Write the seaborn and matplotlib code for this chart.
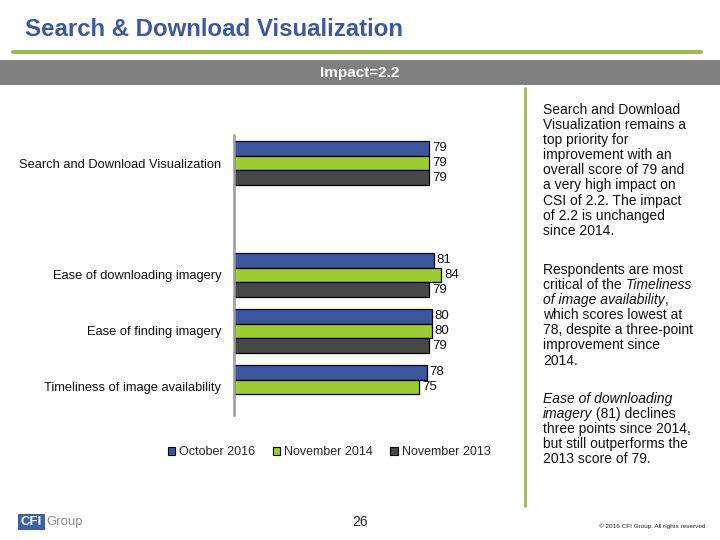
import numpy as np
import pandas as pd
import seaborn as sns
import matplotlib
matplotlib.use("Agg")
import matplotlib.pyplot as plt
from matplotlib.patches import Rectangle
from matplotlib.lines import Line2D

# ---------------- data ----------------
categories = ["Search and Download Visualization", " ",
              "Ease of downloading imagery", "Ease of finding imagery",
              "Timeliness of image availability"]
periods = ["October 2016", "November 2014", "November 2013"]
oct_2016 = [79, np.nan, 81, 80, 78]
nov_2014 = [79, np.nan, 84, 80, 75]
nov_2013 = [79, np.nan, 79, 79, np.nan]
colors = ["#3A56A0", "#9ACD32", "#484848"]

rows = []
for per, vals in zip(periods, [oct_2016, nov_2014, nov_2013]):
    for c, v in zip(categories, vals):
        if not np.isnan(v):
            rows.append({"category": c, "period": per, "value": v})
df = pd.DataFrame(rows)

sns.set_theme(style="white")
plt.rcParams["font.family"] = ["Liberation Sans", "DejaVu Sans"]

W, H = 720, 540
fig = plt.figure(figsize=(W / 100, H / 100), dpi=100)

def fx(x):
    return x / W

def fy(y):
    return 1 - y / H

# ---------------- header ----------------
fig.text(fx(25), fy(29), "Search & Download Visualization", fontsize=17.3,
         fontweight="bold", color="#3C5A9B", va="center", ha="left")
fig.add_artist(Line2D([fx(13), fx(701)], [fy(52), fy(52)], color="#9BBB59",
                      lw=3, transform=fig.transFigure))
fig.add_artist(Rectangle((0, fy(85)), 1, (85 - 60) / H, facecolor="#808080",
                         edgecolor="none", transform=fig.transFigure))
fig.text(0.5, fy(72.5), "Impact=2.2", fontsize=11, fontweight="bold",
         color="white", ha="center", va="center",
         family=["Liberation Sans Narrow", "Liberation Sans", "DejaVu Sans"])
fig.add_artist(Line2D([fx(525), fx(525)], [fy(88), fy(506)], color="#9BBB59",
                      lw=2, transform=fig.transFigure))

# ---------------- chart ----------------
ax = fig.add_axes([fx(234), fy(415), (481 - 234) / W, (415 - 135) / H])
sns.barplot(data=df, y="category", x="value", hue="period", order=categories,
            hue_order=periods, palette=colors, edgecolor="black", linewidth=0.9,
            orient="h", ax=ax, legend=False, width=0.8, saturation=1)
ax.set_xlim(0, 100)
ax.set_ylim(4.5, -0.5)
for cont in ax.containers:
    ax.bar_label(cont, fmt="%d", padding=2, fontsize=9.5, color="#111111")
ax.set_xlabel("")
ax.set_ylabel("")
ax.set_xticks([])
ax.tick_params(axis="y", length=0, pad=9, labelsize=9.3, labelcolor="#111111")
for s in ["top", "right", "bottom"]:
    ax.spines[s].set_visible(False)
ax.spines["left"].set_color("#9A9A9A")
ax.spines["left"].set_linewidth(1.8)
ax.set_facecolor("none")

handles = [Rectangle((0, 0), 1, 1, facecolor=c, edgecolor="black", linewidth=0.8)
           for c in colors]
fig.legend(handles, periods, loc="center", bbox_to_anchor=(fx(329), fy(452)),
           ncol=3, frameon=False, fontsize=9, handlelength=0.6,
           handleheight=0.6, handletextpad=0.3, columnspacing=1.4)

# ---------------- right text ----------------
renderer = fig.canvas.get_renderer()

def seg_line(x, y, segs, size=10):
    cx = fx(x)
    for txt, style in segs:
        t = fig.text(cx, fy(y), txt, fontsize=size, style=style,
                     color="#111111", ha="left", va="center")
        bb = t.get_window_extent(renderer=renderer)
        cx += bb.width / W

paras = [
    (110, [[("Search and Download", "normal")],
           [("Visualization remains a", "normal")],
           [("top priority for", "normal")],
           [("improvement with an", "normal")],
           [("overall score of 79 and", "normal")],
           [("a very high impact on", "normal")],
           [("CSI of 2.2. The impact", "normal")],
           [("of 2.2 is unchanged", "normal")],
           [("since 2014.", "normal")]]),
    (270, [[("Respondents are most", "normal")],
           [("critical of the ", "normal"), ("Timeliness", "italic")],
           [("of image availability", "italic"), (",", "normal")],
           [("which scores lowest at", "normal")],
           [("78, despite a three-point", "normal")],
           [("improvement since", "normal")],
           [("2014.", "normal")]]),
    (399, [[("Ease of downloading", "italic")],
           [("imagery", "italic"), (" (81) declines", "normal")],
           [("three points since 2014,", "normal")],
           [("but still outperforms the", "normal")],
           [("2013 score of 79.", "normal")]]),
]
for y0, lines in paras:
    for i, segs in enumerate(lines):
        seg_line(543, y0 + i * 15.1, segs)

# ---------------- footer ----------------
fig.add_artist(Rectangle((fx(18), fy(530)), 27 / W, 16 / H, facecolor="#3A62A8",
                         edgecolor="none", transform=fig.transFigure))
fig.text(fx(31.5), fy(522), "CFI", fontsize=9.5, fontweight="bold", color="white",
         ha="center", va="center")
fig.text(fx(46), fy(522), "Group", fontsize=9.5, color="#8C8C8C",
         ha="left", va="center")
fig.text(fx(360), fy(522), "26", fontsize=10, color="#222222",
         ha="center", va="center")
fig.text(fx(705), fy(526), "\u00a9 2016 CFI Group. All rights reserved",
         fontsize=4.6, color="#222222", ha="right", va="center")

fig.savefig("out.png", dpi=100)
